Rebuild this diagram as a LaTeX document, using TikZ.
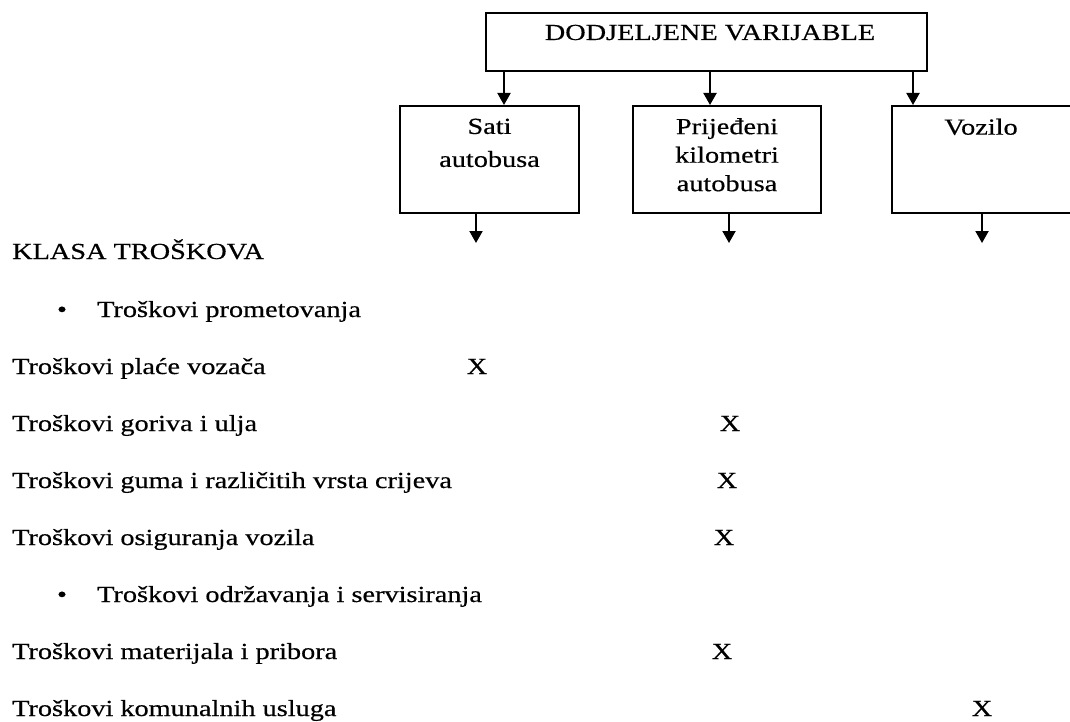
\documentclass[tikz,border=0pt]{standalone}
\usepackage{fontspec}
\setmainfont[FakeStretch=1.23,FakeBold=0.5]{Liberation Serif}
\usetikzlibrary{arrows.meta,positioning}

\begin{document}
\begin{tikzpicture}[x=1pt,y=-1pt]
            \tikzset{
            dv node/.style={draw,line width=2pt,inner sep=0},
            dv text/.style={font=\fontsize{23}{28.5}\selectfont,inner sep=0,align=center},
            dv edge/.style={line width=2pt,-{Triangle[width=13pt,length=12pt]}},
            row/.style={font=\fontsize{23}{28.5}\selectfont,inner sep=0,anchor=base west},
            xmark/.style={font=\fontsize{23}{28.5}\selectfont,inner sep=0,anchor=base}
            }
            \useasboundingbox (0,0) rectangle (1070,722);

            % boxes
            \node[dv node,minimum width=441pt,minimum height=58pt] (dv) at (706.5,42) {};
            \node[dv text,anchor=base] (dvt) at (710,40) {DODJELJENE VARIJABLE};
            \node[dv node,minimum width=179pt,minimum height=107pt] (sati) at (489.5,159.5) {};
            \node[dv node,minimum width=188pt,minimum height=107pt] (km) at (727,159.5) {};
            \node[dv node,minimum width=180pt,minimum height=107pt] (voz) at (982,159.5) {};
            \node[dv text,anchor=north] (satit) at (489.5,118.5) {Sati\\[4.5pt]autobusa};
            \node[dv text,anchor=north] (kmt) at (727,118) {Prijeđeni\\kilometri\\autobusa};
            \node[dv text,anchor=north] (vozt) at (981,118.5) {Vozilo};

            \coordinate (sati in) at (504,0);
            \coordinate (km in) at (710,0);
            \coordinate (voz in) at (913,0);
            \coordinate (sati out) at (476,243);
            \coordinate (km out) at (729,243);
            \coordinate (voz out) at (982,243);

            \path[dv edge]
            (dv.south -| sati in) edge (sati.north -| sati in)
            (dv.south -| km in) edge (km.north -| km in)
            (dv.south -| voz in) edge (voz.north -| voz in)
            (sati.south -| sati out) edge (sati out)
            (km.south -| km out) edge (km out)
            (voz.south -| voz out) edge (voz out)
            ;

            % rows
            \node[row] (klasa) at (12,259) {KLASA TROŠKOVA};
            \node[xmark] (b1) at (62,317) {•};
            \node[row] (prom) at (97,317) {Troškovi prometovanja};
            \node[row] (plac) at (12,374) {Troškovi plaće vozača};
            \node[xmark] (x1) at (477,374) {X};
            \node[row] (gor) at (12,431) {Troškovi goriva i ulja};
            \node[xmark] (x2) at (730,431) {X};
            \node[row] (gum) at (12,488) {Troškovi guma i različitih vrsta crijeva};
            \node[xmark] (x3) at (727,488) {X};
            \node[row] (osi) at (12,545) {Troškovi osiguranja vozila};
            \node[xmark] (x4) at (724,545) {X};
            \node[xmark] (b2) at (62,602) {•};
            \node[row] (odr) at (97,602) {Troškovi održavanja i servisiranja};
            \node[row] (mat) at (12,659) {Troškovi materijala i pribora};
            \node[xmark] (x5) at (722,659) {X};
            \node[row] (kom) at (12,716) {Troškovi komunalnih usluga};
            \node[xmark] (x6) at (982,716) {X};
        \end{tikzpicture}
\end{document}
